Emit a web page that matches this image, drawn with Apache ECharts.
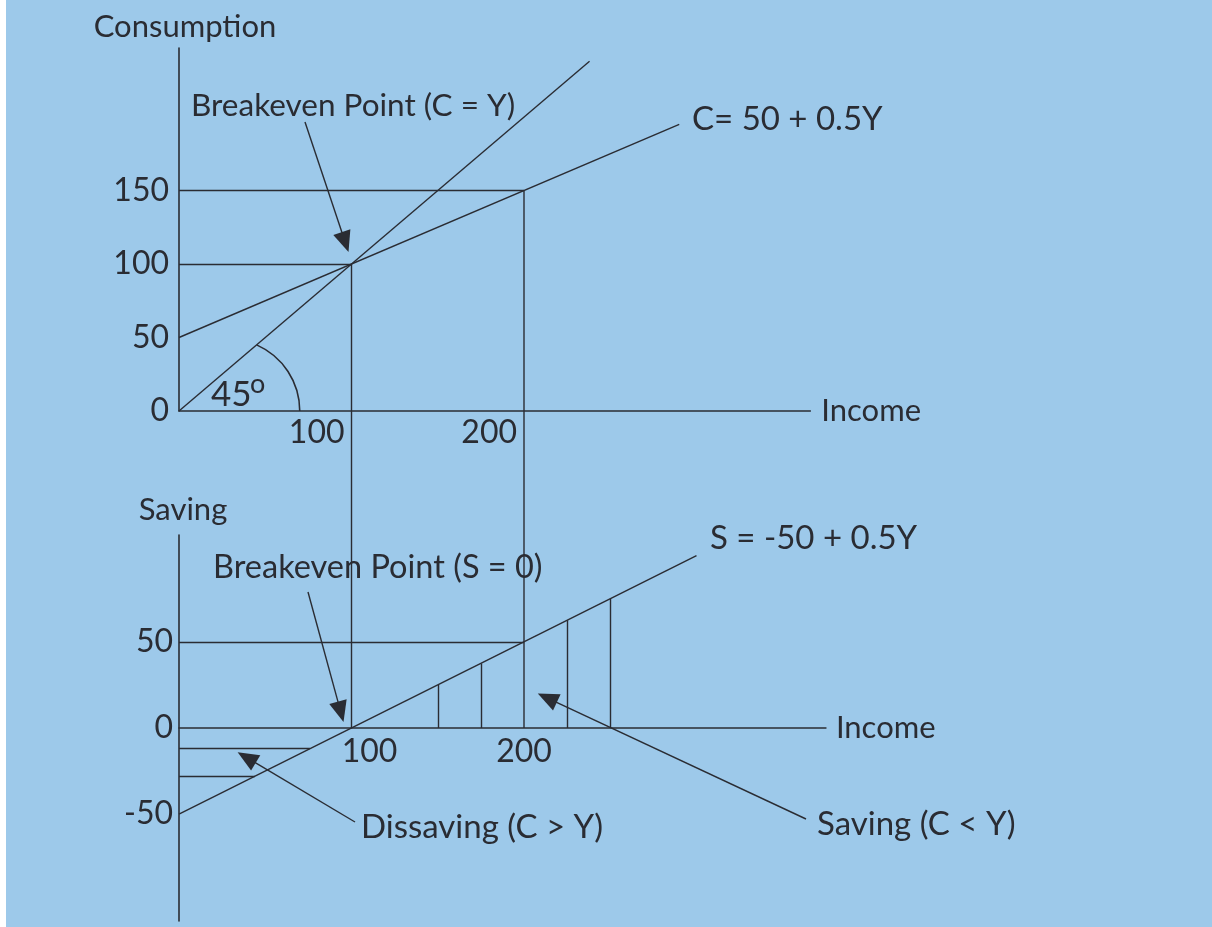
<!DOCTYPE html>
<html>
<head>
<meta charset="utf-8">
<title>Consumption and Saving Functions</title>
<script src="https://cdn.jsdelivr.net/npm/echarts@6/dist/echarts.min.js"></script>
<style>
  html, body { margin: 0; padding: 0; background: #ffffff; overflow: hidden; }
  #main { width: 1212px; height: 927px; }
</style>
</head>
<body>
<div id="main"></div>
<script>
// ---- Schedules (income Y, consumption C, saving S) ----
// 45-degree line C = Y
const lineCY = [[0, 0], [238, 238]];
// Consumption function C = 50 + 0.5Y
const lineC = [[0, 50], [290, 195]];
// Saving function S = -50 + 0.5Y
const lineS = [[0, -50], [300, 100]];

// Income levels carried down from the consumption panel to the saving panel
const guideIncome = [100, 200];
const guideConsumption = [100, 150];
const guideSaving = [0, 50];

// Dissaving levels (below zero) and the income where the saving line reaches them
const dissavingLevel = [-12, -28];
const dissavingIncome = [76, 44];

// Saving hatch lines above zero
const savingIncome = [150, 175, 225, 250];
const savingLevel = [25, 37.5, 62.5, 75];

// Tick labels
const consumptionTicks = [0, 50, 100, 150];
const savingTicks = [-50, 0, 50];
const incomeTicks = [100, 200];

// ---- Styling ----
const INK = '#2a2c33';
const BG = '#9dc9ea';
const FONT = 'Lato';
const FS = 31;      // axis names
const FS_TICK = 32; // tick labels
const FS_NOTE = 33; // annotations
const LW = 1.4;

// Both panels share the same income scale so the guide lines drop straight down
const AXIS_LEFT = 179;
const PX_PER_INCOME = 1.725;
const TOP_X_MAX = 366;
const BOT_X_MAX = 375;
const BOT_TOP = 535;
const BOT_HEIGHT = 386;
const S_MIN = -112, S_MAX = 112;

const chart = echarts.init(document.getElementById('main'), null, { renderer: 'canvas' });

function segments(grid, segs, width) {
  return {
    type: 'lines',
    coordinateSystem: 'cartesian2d',
    xAxisIndex: grid,
    yAxisIndex: grid,
    polyline: false,
    silent: true,
    animation: false,
    symbol: 'none',
    lineStyle: { color: INK, width: width || LW, opacity: 1, curveness: 0 },
    data: segs.map(s => ({ coords: s }))
  };
}

// Top panel segments
const topSegs = [lineCY, lineC];
guideIncome.forEach((y, i) => {
  topSegs.push([[0, guideConsumption[i]], [y, guideConsumption[i]]]);
});

// Bottom panel segments
const botSegs = [lineS];
guideIncome.forEach((y, i) => {
  if (guideSaving[i] !== 0) botSegs.push([[0, guideSaving[i]], [y, guideSaving[i]]]);
});
dissavingLevel.forEach((s, i) => {
  botSegs.push([[0, s], [dissavingIncome[i], s]]);
});
savingIncome.forEach((y, i) => {
  botSegs.push([[y, 0], [y, savingLevel[i]]]);
});

const tickStyle = { color: INK, fontFamily: FONT, fontSize: FS_TICK };
const nameStyle = { color: INK, fontFamily: FONT, fontSize: FS };

// the saving panel's income axis sits on S = 0, inside its grid
const zeroOffset = -BOT_HEIGHT * (0 - S_MIN) / (S_MAX - S_MIN);

const option = {
  backgroundColor: BG,
  animation: false,
  grid: [
    { left: AXIS_LEFT, top: 48, width: TOP_X_MAX * PX_PER_INCOME, height: 363, outerBoundsMode: 'none', containLabel: false },
    { left: AXIS_LEFT, top: BOT_TOP, width: BOT_X_MAX * PX_PER_INCOME, height: BOT_HEIGHT, outerBoundsMode: 'none', containLabel: false }
  ],
  xAxis: [
    {
      gridIndex: 0, type: 'value', min: 0, max: TOP_X_MAX,
      axisLine: { show: true, onZero: false, lineStyle: { color: INK, width: 1.6 } },
      axisTick: { show: false }, splitLine: { show: false },
      axisLabel: Object.assign({ customValues: incomeTicks, align: 'right', margin: 6, padding: [0, 7, 0, 0] }, tickStyle),
      name: 'Income', nameLocation: 'end', nameGap: 11,
      nameTextStyle: Object.assign({ padding: [0, 0, 10, 0] }, nameStyle)
    },
    {
      gridIndex: 1, type: 'value', min: 0, max: BOT_X_MAX,
      offset: zeroOffset,
      axisLine: { show: true, onZero: false, lineStyle: { color: INK, width: 1.6 } },
      axisTick: { show: false }, splitLine: { show: false },
      axisLabel: Object.assign({
        customValues: incomeTicks, margin: 8,
        formatter: v => (v === 100 ? '{s|100}' : '{c|' + v + '}'),
        rich: {
          s: Object.assign({ padding: [0, 0, 0, 36] }, tickStyle),
          c: Object.assign({}, tickStyle)
        }
      }, tickStyle),
      name: 'Income', nameLocation: 'end', nameGap: 10,
      nameTextStyle: Object.assign({ padding: [0, 0, 10, 0] }, nameStyle)
    }
  ],
  yAxis: [
    {
      gridIndex: 0, type: 'value', min: 0, max: 247,
      axisLine: { show: true, onZero: false, lineStyle: { color: INK, width: 1.6 } },
      axisTick: { show: false }, splitLine: { show: false },
      axisLabel: Object.assign({ customValues: consumptionTicks, margin: 10 }, tickStyle),
      name: 'Consumption', nameLocation: 'end', nameGap: 6,
      nameTextStyle: Object.assign({ align: 'center', padding: [0, 0, 0, 12] }, nameStyle)
    },
    {
      gridIndex: 1, type: 'value', min: S_MIN, max: S_MAX,
      axisLine: { show: true, onZero: false, lineStyle: { color: INK, width: 1.6 } },
      axisTick: { show: false }, splitLine: { show: false },
      axisLabel: Object.assign({ customValues: savingTicks, margin: 6 }, tickStyle),
      name: 'Saving', nameLocation: 'end', nameGap: 10,
      nameTextStyle: Object.assign({ align: 'center', padding: [0, 0, 0, 8] }, nameStyle)
    }
  ],
  series: [segments(0, topSegs), segments(1, botSegs)]
};

chart.setOption(option);

// ---- Annotations: connectors, arc, arrows and notes ----
const P = (grid, v) => chart.convertToPixel({ gridIndex: grid }, v);

function arrow(tail, tip, len, half) {
  len = len || 21; half = half || 9;
  const dx = tip[0] - tail[0], dy = tip[1] - tail[1];
  const L = Math.hypot(dx, dy), ux = dx / L, uy = dy / L;
  const bx = tip[0] - ux * len, by = tip[1] - uy * len;
  return [
    { type: 'line', silent: true, shape: { x1: tail[0], y1: tail[1], x2: bx + ux * 2, y2: by + uy * 2 },
      style: { stroke: INK, lineWidth: LW } },
    { type: 'polygon', silent: true,
      shape: { points: [tip, [bx - uy * half, by + ux * half], [bx + uy * half, by - ux * half]] },
      style: { fill: INK } }
  ];
}

function note(text, x, y, size) {
  return { type: 'text', silent: true, x: x, y: y,
    style: { text: text, fill: INK, fontFamily: FONT, fontSize: size || FS_NOTE, align: 'left', verticalAlign: 'middle' } };
}

const g = [];
// white margin strip on the left edge
g.push({ type: 'rect', silent: true, shape: { x: 0, y: 0, width: 6, height: 927 }, style: { fill: '#ffffff' } });

// vertical guides from the consumption panel down to the saving panel's income axis
guideIncome.forEach((y, i) => {
  const a = P(0, [y, guideConsumption[i]]);
  const b = P(1, [y, 0]);
  g.push({ type: 'line', silent: true, shape: { x1: a[0], y1: a[1], x2: b[0], y2: b[1] }, style: { stroke: INK, lineWidth: LW } });
});

// 45-degree arc between the income axis and the C = Y line
const arcStart = P(0, [45, 45]);
const arcEnd = P(0, [70, 0]);
const y0 = arcEnd[1];
const cx = (arcEnd[0] * arcEnd[0] - arcStart[0] * arcStart[0] - (arcStart[1] - y0) * (arcStart[1] - y0)) /
           (2 * (arcEnd[0] - arcStart[0]));
const r = arcEnd[0] - cx;
g.push({ type: 'arc', silent: true,
  shape: { cx: cx, cy: y0, r: r, startAngle: Math.atan2(arcStart[1] - y0, arcStart[0] - cx), endAngle: 0, clockwise: true },
  style: { stroke: INK, fill: null, lineWidth: 1.6 } });
g.push(note('45', 211, 395, 35));
g.push(note('o', 250, 384, 27));

// arrows
const tipCY = P(0, [100, 100]);
const tipS0 = P(1, [100, 0]);
g.push.apply(g, arrow([305, 122], [tipCY[0] - 3, tipCY[1] - 12]));
g.push.apply(g, arrow([308, 592], [tipS0[0] - 8, tipS0[1] - 6]));
g.push.apply(g, arrow([355, 822], P(1, [34, -14])));
g.push.apply(g, arrow([806, 819], P(1, [208, 20])));

// notes
g.push(note('Breakeven Point (C = Y)', 191, 106, 31.5));
g.push(note('C= 50 + 0.5Y', 692, 119));
g.push(note('Breakeven Point (S = 0)', 213, 568, 32.5));
g.push(note('S = -50 + 0.5Y', 710, 538));
g.push(note('Dissaving (C > Y)', 361, 827));
g.push(note('Saving (C < Y)', 817, 824));

chart.setOption({ graphic: g });
</script>
</body>
</html>
